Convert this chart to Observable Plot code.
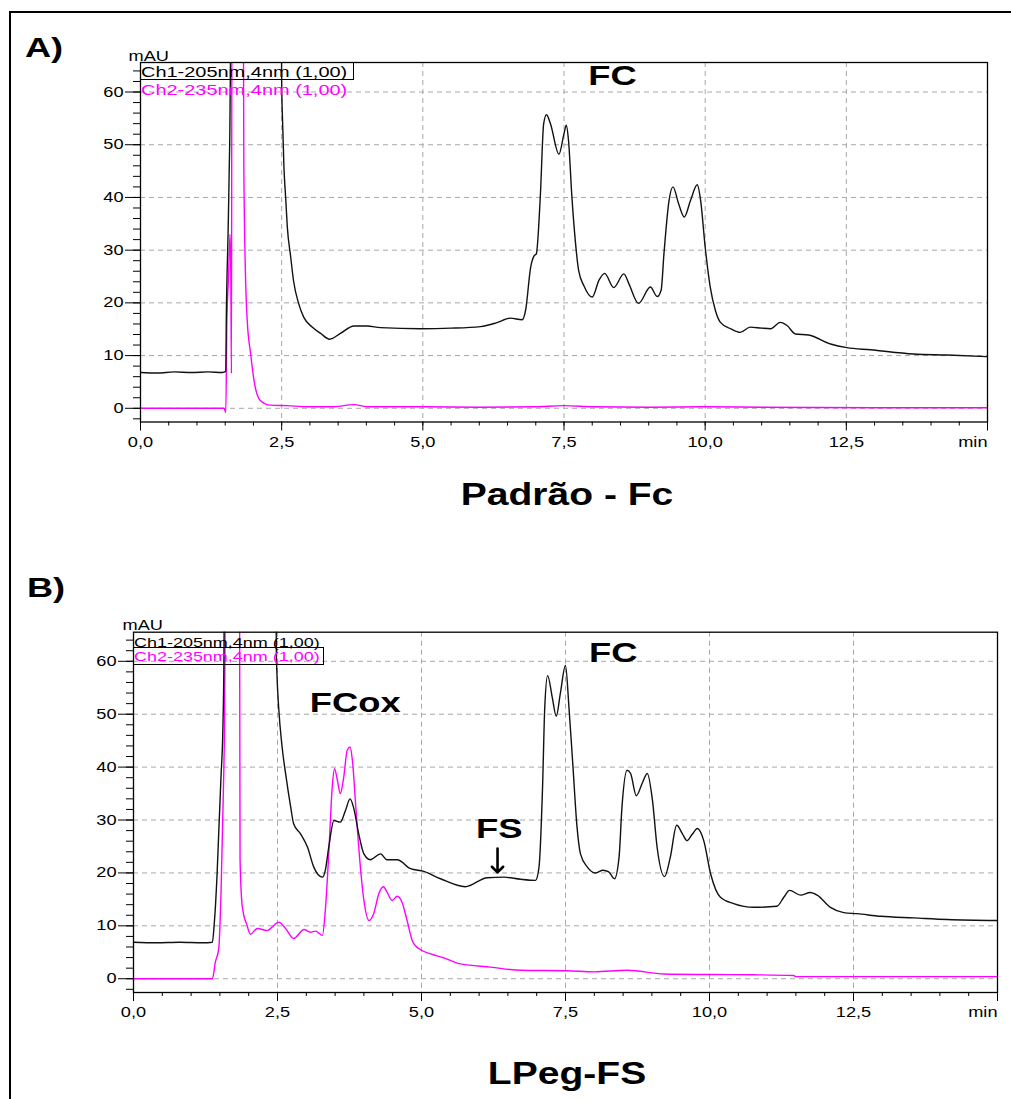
<!DOCTYPE html>
<html><head><meta charset="utf-8">
<script src="https://cdn.jsdelivr.net/npm/d3@7"></script>
<script src="https://cdn.jsdelivr.net/npm/@observablehq/plot@0.6"></script>
<style>
html,body{margin:0;padding:0;background:#fff;overflow:hidden;}
#page{position:relative;width:1011px;height:1099px;background:#fff;font-family:"Liberation Sans",Arial,sans-serif;overflow:hidden;}
.abs{position:absolute;white-space:nowrap;line-height:1;}
.plotwrap{position:absolute;left:0;}
svg{max-width:none!important;}
</style></head><body><div id="page"></div>
<script>
// ---------- axis ticks ----------
const xMajor = [0, 2.5, 5, 7.5, 10, 12.5, 15];
const xMinor = [0,0.5,1,1.5,2,2.5,3,3.5,4,4.5,5,5.5,6,6.5,7,7.5,8,8.5,9,9.5,10,10.5,11,11.5,12,12.5,13,13.5,14,14.5,15];
const yMajor = [0, 10, 20, 30, 40, 50, 60];
const yMinor = [-2,0,2,4,6,8,10,12,14,16,18,20,22,24,26,28,30,32,34,36,38,40,42,44,46,48,50,52,54,56,58,60,62,64];
const xGrid = [2.5, 5, 7.5, 10, 12.5];
const xTickLabels = ["0,0", "2,5", "5,0", "7,5", "10,0", "12,5", ""];
const unitX = "min";
const unitY = "mAU";
const legendLabels = ["Ch1-205nm,4nm (1,00)", "Ch2-235nm,4nm (1,00)"];

// ---------- Panel A (Padrão - Fc) ----------
const aCh1T = [0,0.3,0.6,0.9,1.2,1.45,1.51,1.52,1.55,1.58,1.61,2.49,2.50,2.52,2.54,2.57,2.60,2.66,2.71,2.80,2.89,3.04,3.19,3.35,3.54,3.78,4.01,4.25,4.96,5.5,6.02,6.3,6.55,6.76,6.82,6.91,6.97,7.01,7.08,7.14,7.19,7.26,7.41,7.50,7.54,7.58,7.64,7.70,7.76,7.85,8.00,8.12,8.22,8.38,8.56,8.65,8.82,9.03,9.15,9.22,9.27,9.36,9.43,9.53,9.63,9.74,9.86,9.92,10.00,10.09,10.18,10.27,10.45,10.62,10.80,11.00,11.16,11.33,11.45,11.60,11.83,12.22,12.51,12.93,13.69,14.29,15.0];
const aCh1V = [6.8,6.7,6.9,6.8,6.9,6.8,7.0,17.3,32.8,50.5,80,80,62,53.1,45.8,40.1,34.4,28.7,24.2,19.9,17.3,15.4,14.2,13.1,14.2,15.6,15.6,15.3,15.1,15.2,15.5,16.2,17.1,16.8,18.6,26.8,28.9,29.3,40.1,54.0,55.7,54.0,48.2,52.1,53.7,50.8,40.1,31.8,26.1,23.3,21.1,24.3,25.6,22.9,25.5,23.6,19.9,23.0,21.2,22.4,29.3,39.4,42.0,38.8,36.3,39.4,42.4,39.4,30.6,23.0,18.6,16.3,15.1,14.4,15.4,15.2,15.1,16.3,15.7,14.1,13.9,12.2,11.5,11.1,10.3,10.1,9.8];
const aCh2T = [0,1.48,1.51,1.53,1.56,1.585,1.60,1.61,1.62,1.82,1.83,1.86,1.89,1.95,2.01,2.12,2.30,2.60,2.95,3.43,3.78,4.01,5.0,6.0,7.0,7.5,8.0,9.0,10.0,11.0,12.0,13.0,14.0,15.0];
const aCh2V = [0,0,-0.8,16.5,25,33,25,6.6,80,80,46,24.9,16.7,10.4,5.3,1.5,0.6,0.5,0.3,0.3,0.7,0.3,0.3,0.2,0.3,0.5,0.3,0.2,0.3,0.2,0.15,0.1,0.1,0.1];
const aNoteText = ["FC"];
const aNoteT = [8.36];
const aNoteV = [63.0];

// ---------- Panel B (LPeg-FS) ----------
const bCh1T = [0,0.4,0.8,1.2,1.37,1.40,1.45,1.48,1.52,1.55,1.57,1.58,2.47,2.48,2.49,2.52,2.58,2.64,2.73,2.78,2.90,3.02,3.13,3.28,3.33,3.39,3.48,3.59,3.68,3.76,3.82,3.91,4.00,4.11,4.29,4.40,4.58,4.81,5.04,5.33,5.76,6.14,6.43,6.72,6.98,7.04,7.10,7.14,7.19,7.27,7.34,7.41,7.50,7.56,7.63,7.70,7.76,7.88,8.02,8.15,8.25,8.35,8.43,8.48,8.57,8.63,8.73,8.83,8.92,9.01,9.09,9.22,9.32,9.43,9.53,9.61,9.70,9.79,9.90,10.02,10.19,10.42,10.77,11.17,11.29,11.39,11.58,11.75,11.87,12.10,12.33,12.56,12.97,13.55,14.13,15.0];
const bCh1V = [6.9,6.8,6.9,6.8,6.9,10.1,19.5,27.7,38.4,46.6,60.5,80,80,61.4,57.7,51.3,43.8,38.8,32.4,29.3,27.4,24.9,21.1,19.2,20.5,24.9,29.9,29.6,31.8,34.0,32.4,27.4,23.6,22.5,23.6,22.5,22.5,20.8,20.3,18.9,17.4,19.1,19.2,18.8,18.6,21.1,35.6,51.3,57.3,53.2,49.6,53.9,59.2,51.3,40.0,28.7,23.6,21.1,20.0,20.5,20.2,18.9,23.0,32.4,39.4,38.8,34.6,36.9,38.8,33.7,24.9,19.3,23.0,29.0,27.4,26.1,27.3,28.4,26.1,19.8,15.4,14.2,13.5,13.7,15.4,16.7,15.8,16.3,15.8,13.5,12.5,12.3,11.8,11.5,11.2,11.0];
const bCh2T = [0,1.37,1.42,1.48,1.52,1.56,1.58,1.60,1.84,1.85,1.89,1.97,2.03,2.15,2.32,2.44,2.52,2.64,2.78,2.96,3.07,3.16,3.28,3.33,3.39,3.45,3.49,3.54,3.59,3.65,3.71,3.76,3.80,3.86,3.91,4.00,4.09,4.17,4.26,4.34,4.40,4.49,4.58,4.66,4.75,4.84,4.95,5.16,5.40,5.68,6.2,6.72,7.53,8.0,8.57,9.21,10.0,10.77,11.46,11.5,12.5,13.5,15.0];
const bCh2V = [0,0,3.1,5.7,16.4,35.3,47.9,80,80,22.5,13.5,10.1,8.4,9.5,9.1,10.1,10.7,9.5,7.6,9.3,8.8,9.0,8.2,12.9,23.6,36.2,39.7,37.5,35.0,38.1,43.2,43.8,41.3,32.4,24.9,14.8,11.0,12.3,16.1,17.4,16.4,14.8,15.6,14.5,11.0,7.2,5.7,4.7,3.9,2.8,2.2,1.6,1.5,1.3,1.6,0.9,0.8,0.75,0.6,0.4,0.4,0.4,0.4];
const bNoteText = ["FCox", "FS", "FC"];
const bNoteT = [3.85, 6.35, 8.33];
const bNoteV = [52.1, 28.3, 61.5];
const bArrowT = [6.32];
const bArrowFrom = [24.6];
const bArrowTo = [20.1];

// ---------- helpers ----------
const rows = (T, V) => T.map((t, i) => ({t, v: V[i]}));
const notes = (L, T, V) => L.map((s, i) => ({label: s, t: T[i], v: V[i]}));
const fmtX = d => xTickLabels[xMajor.indexOf(d)];
const BLACK = "#111";
const MAGENTA = "#ff00ff";
const GRID = "#a8a8a8";
const FONT = "Liberation Sans, Arial, sans-serif";

function panel(cfg) {
  const marks = [
    Plot.gridX(xGrid, {stroke: GRID, strokeOpacity: 1, strokeDasharray: "5,4", strokeWidth: 1}),
    Plot.gridY(yMajor, {stroke: GRID, strokeOpacity: 1, strokeDasharray: "5,4", strokeWidth: 1}),
    Plot.line(rows(cfg.ch2T, cfg.ch2V), {x: "t", y: "v", stroke: MAGENTA, strokeWidth: 1.4, curve: "monotone-x", clip: true}),
    Plot.line(rows(cfg.ch1T, cfg.ch1V), {x: "t", y: "v", stroke: BLACK, strokeWidth: 1.4, curve: "monotone-x", clip: true}),
    Plot.frame({stroke: "black", strokeWidth: 1.3}),
    Plot.axisY(yMinor, {tickSize: 7, tickFormat: () => "", label: null, stroke: "black"}),
    Plot.axisY(yMajor, {tickSize: 15, tickPadding: 2, tickFormat: d => String(d), label: null, fontSize: 14, stroke: "black", fill: "black"}),
    Plot.axisX(xMinor, {tickSize: 4, tickFormat: () => "", label: null, stroke: "black"}),
    Plot.axisX(xMajor, {tickSize: 9, tickPadding: 6, tickFormat: fmtX, label: null, fontSize: 14, stroke: "black", fill: "black"}),
    Plot.text([unitX], {frameAnchor: "bottom-right", textAnchor: "end", lineAnchor: "top", dy: 15, fontSize: 14, fill: "black"}),
    Plot.text([unitY], {frameAnchor: "top-left", textAnchor: "start", lineAnchor: "bottom", dx: cfg.mauDx, dy: -2, fontSize: 14, fill: "black"}),
    Plot.text(notes(cfg.noteText, cfg.noteT, cfg.noteV), {x: "t", y: "v", text: "label", fontSize: 28, fontWeight: "bold", lineAnchor: "middle", fill: "black"})
  ];
  if (cfg.arrowT) {
    marks.push(Plot.arrow(cfg.arrowT.map((t, i) => ({t, a: cfg.arrowFrom[i], b: cfg.arrowTo[i]})),
      {x1: "t", y1: "a", x2: "t", y2: "b", stroke: "black", strokeWidth: 2.6, headLength: 12, headAngle: 90}));
  }
  const svg = Plot.plot({
    width: 1011, height: 460,
    marginLeft: cfg.ml, marginRight: cfg.mr, marginTop: cfg.mt, marginBottom: cfg.mb,
    x: {domain: [0, 15]},
    y: {domain: cfg.yDomain},
    style: {fontFamily: FONT, fontSize: "14px", color: "black", background: "transparent", overflow: "visible"},
    marks
  });
  svg.querySelectorAll("text").forEach(el => {
    const tr = el.getAttribute("transform") || "";
    el.setAttribute("transform", tr + " scale(1.3,1)");
  });
  return svg;
}

const page = document.getElementById("page");
function addDiv(cls, css, html) {
  const d = document.createElement("div");
  d.className = cls;
  d.style.cssText = css;
  if (html != null) d.textContent = html;
  page.appendChild(d);
  return d;
}

// outer border
addDiv("abs", "left:9px;top:11px;width:1010px;height:1100px;border-left:2px solid #000;border-top:2px solid #000;");

// panel A
const wrapA = addDiv("plotwrap", "top:0px;");
wrapA.appendChild(panel({ch1T: aCh1T, ch1V: aCh1V, ch2T: aCh2T, ch2V: aCh2V, noteText: aNoteText, noteT: aNoteT, noteV: aNoteV,
  ml: 140, mr: 24, mt: 62, mb: 38.5, yDomain: [-2.6, 65.6], mauDx: -12}));
// panel B
const wrapB = addDiv("plotwrap", "top:570px;");
wrapB.appendChild(panel({ch1T: bCh1T, ch1V: bCh1V, ch2T: bCh2T, ch2V: bCh2V, noteText: bNoteText, noteT: bNoteT, noteV: bNoteV,
  arrowT: bArrowT, arrowFrom: bArrowFrom, arrowTo: bArrowTo,
  ml: 133, mr: 14, mt: 61.7, mb: 38, yDomain: [-2.6, 65.5], mauDx: -11}));

// panel labels and titles
addDiv("abs", "left:25px;top:34px;font-size:28px;font-weight:bold;transform:scaleX(1.29);transform-origin:left;", "A)");
addDiv("abs", "left:27px;top:574px;font-size:28px;font-weight:bold;transform:scaleX(1.29);transform-origin:left;", "B)");
addDiv("abs", "left:567px;top:478px;font-size:32px;font-weight:bold;transform:translateX(-50%) scaleX(1.22);transform-origin:center;", "Padrão - Fc");
addDiv("abs", "left:567px;top:1057px;font-size:32px;font-weight:bold;transform:translateX(-50%) scaleX(1.22);transform-origin:center;", "LPeg-FS");

// legends
addDiv("abs", "left:140px;top:62px;width:212px;height:16px;border:1px solid #000;");
addDiv("abs", "left:141px;top:64px;font-size:15px;color:#000;transform:scaleX(1.33);transform-origin:left;", legendLabels[0]);
addDiv("abs", "left:141px;top:81.5px;font-size:15px;color:" + MAGENTA + ";transform:scaleX(1.33);transform-origin:left;", legendLabels[1]);

addDiv("abs", "left:133px;top:647px;width:189px;height:16px;border:1px solid #000;");
addDiv("abs", "left:134px;top:635.5px;font-size:13.5px;color:#000;transform:scaleX(1.33);transform-origin:left;", legendLabels[0]);
addDiv("abs", "left:134px;top:650.3px;font-size:13.5px;color:" + MAGENTA + ";transform:scaleX(1.33);transform-origin:left;", legendLabels[1]);
</script></body></html>
